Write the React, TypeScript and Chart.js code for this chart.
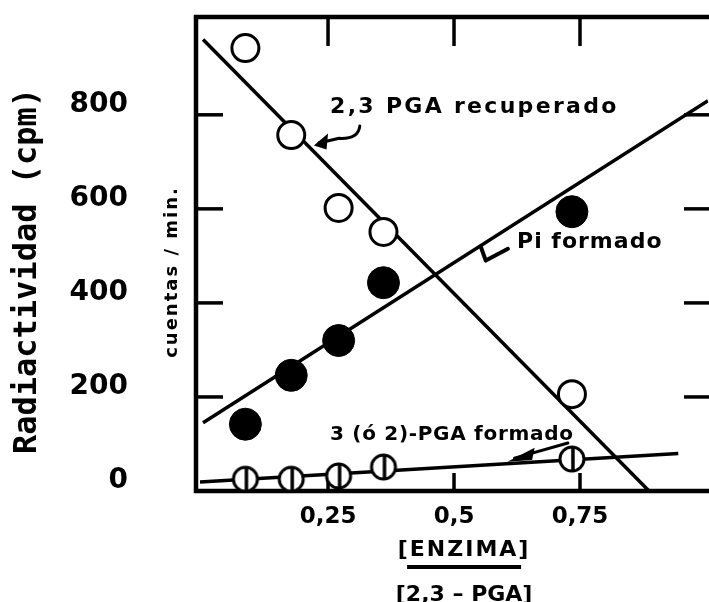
import React, { useEffect, useRef } from 'react';
import { Chart, registerables } from 'chart.js';

Chart.register(...registerables);

// ---- data ----
const ENZYME_RATIO = [0.086, 0.177, 0.271, 0.36, 0.734];
const PGA_RECUPERADO = [942, 757, 602, 551, 206];
const PI_FORMADO = [142, 246, 320, 443, 594];
const PGA_FORMADO = [25, 25, 32, 51, 68];

const FIT_RECUPERADO_X = [0.002, 0.887];
const FIT_RECUPERADO_Y = [960, 0];
const FIT_PI_X = [0.002, 1.004];
const FIT_PI_Y = [145, 830];
const FIT_FORMADO_X = [-0.004, 0.945];
const FIT_FORMADO_Y = [19, 80];

const X_TICKS = [0.25, 0.5, 0.75];
const X_TICK_LABELS = ['0,25', '0,5', '0,75'];
const Y_TICKS = [0, 200, 400, 600, 800];

const SERIES_NAMES = ['2,3 PGA recuperado', 'Pi formado', '3 (ó 2)-PGA formado'];
const Y_TITLE = 'Radiactividad (cpm)';
const Y_SUBTITLE = 'cuentas / min.';
const X_TITLE_TOP = '[ENZIMA]';
const X_TITLE_BOTTOM = '[2,3 – PGA]';

const SANS = '"DejaVu Sans", sans-serif';

function pts(xs: number[], ys: number[]) {
  return xs.map((v, i) => ({ x: v, y: ys[i] }));
}

function makeBarred(): HTMLCanvasElement {
  const r = 12;
  const lw = 3;
  const size = 2 * (r + lw);
  const c = document.createElement('canvas');
  c.width = size;
  c.height = size;
  const g = c.getContext('2d')!;
  g.fillStyle = '#fff';
  g.strokeStyle = '#000';
  g.lineWidth = lw;
  g.beginPath();
  g.arc(size / 2, size / 2, r, 0, Math.PI * 2);
  g.fill();
  g.stroke();
  g.lineWidth = 3.5;
  g.beginPath();
  g.moveTo(size / 2 + 1, size / 2 - r);
  g.lineTo(size / 2 + 1, size / 2 + r);
  g.stroke();
  return c;
}

const framePlugin = {
  id: 'frame',
  beforeDatasetsDraw(chart: any) {
    const { ctx, chartArea: a, scales } = chart;
    const xs = scales.x;
    const ys = scales.y;
    const W = chart.width;
    ctx.save();
    ctx.strokeStyle = '#000';
    ctx.lineCap = 'butt';
    ctx.lineWidth = 4.5;
    ctx.beginPath();
    ctx.moveTo(W + 5, a.top);
    ctx.lineTo(a.left, a.top);
    ctx.lineTo(a.left, a.bottom);
    ctx.lineTo(W + 5, a.bottom);
    ctx.stroke();
    ctx.lineWidth = 3.5;
    const seg = (x1: number, y1: number, x2: number, y2: number) => {
      ctx.beginPath();
      ctx.moveTo(x1, y1);
      ctx.lineTo(x2, y2);
      ctx.stroke();
    };
    Y_TICKS.filter((v) => v > 0).forEach((v) => {
      const py = ys.getPixelForValue(v);
      seg(a.left, py, a.left + 27, py);
      seg(W - 25, py, W + 2, py);
    });
    X_TICKS.forEach((v) => {
      const px = xs.getPixelForValue(v);
      seg(px, a.top, px, a.top + 29);
      seg(px, a.bottom, px, a.bottom - 18);
    });
    ctx.restore();
  },
  afterDatasetsDraw(chart: any) {
    const { ctx, scales } = chart;
    const X = (v: number) => scales.x.getPixelForValue(v);
    const Y = (v: number) => scales.y.getPixelForValue(v);
    ctx.save();
    ctx.fillStyle = '#000';
    ctx.strokeStyle = '#000';
    ctx.textAlign = 'left';
    ctx.textBaseline = 'middle';
    ctx.lineCap = 'round';
    ctx.lineJoin = 'round';

    // 2,3 PGA recuperado
    ctx.font = `bold 22px ${SANS}`;
    (ctx as any).letterSpacing = '2.3px';
    ctx.fillText(SERIES_NAMES[0], X(0.254), Y(815));
    ctx.lineWidth = 3;
    ctx.beginPath();
    ctx.moveTo(X(0.313), Y(776));
    ctx.quadraticCurveTo(X(0.31), Y(748), X(0.272), Y(750));
    ctx.lineTo(X(0.232), Y(740));
    ctx.stroke();
    ctx.beginPath();
    ctx.moveTo(X(0.222), Y(735));
    ctx.lineTo(X(0.25), Y(760));
    ctx.lineTo(X(0.247), Y(726));
    ctx.closePath();
    ctx.fill();

    // Pi formado
    (ctx as any).letterSpacing = '1px';
    ctx.fillText(SERIES_NAMES[1], X(0.625), Y(528));
    ctx.lineWidth = 4;
    ctx.beginPath();
    ctx.moveTo(X(0.553), Y(520));
    ctx.lineTo(X(0.563), Y(490));
    ctx.lineTo(X(0.607), Y(515));
    ctx.stroke();

    // 3 (ó 2)-PGA formado
    ctx.font = `bold 20px ${SANS}`;
    (ctx as any).letterSpacing = '0.7px';
    ctx.fillText(SERIES_NAMES[2], X(0.254), Y(119));
    ctx.lineWidth = 3;
    ctx.beginPath();
    ctx.moveTo(X(0.726), Y(102));
    ctx.lineTo(X(0.62), Y(70));
    ctx.stroke();
    ctx.beginPath();
    ctx.moveTo(X(0.606), Y(62));
    ctx.lineTo(X(0.66), Y(92));
    ctx.lineTo(X(0.655), Y(66));
    ctx.closePath();
    ctx.fill();
    ctx.restore();
  },
  afterDraw(chart: any) {
    const { ctx, scales } = chart;
    const X = (v: number) => scales.x.getPixelForValue(v);
    ctx.save();
    ctx.fillStyle = '#000';
    ctx.strokeStyle = '#000';
    ctx.textAlign = 'center';
    ctx.textBaseline = 'middle';

    // y title
    ctx.save();
    ctx.translate(28, 271);
    ctx.rotate(-Math.PI / 2);
    ctx.font = 'bold 32px "DejaVu Sans Mono", monospace';
    ctx.fillText(Y_TITLE, 0, 0);
    ctx.restore();

    ctx.save();
    ctx.translate(172, 272);
    ctx.rotate(-Math.PI / 2);
    ctx.font = `bold 18px ${SANS}`;
    (ctx as any).letterSpacing = '2px';
    ctx.fillText(Y_SUBTITLE, 0, 0);
    ctx.restore();

    // x title (fraction)
    const cx = X(0.52);
    ctx.textBaseline = 'alphabetic';
    ctx.font = `bold 22px ${SANS}`;
    (ctx as any).letterSpacing = '2px';
    ctx.fillText(X_TITLE_TOP, cx, 556);
    (ctx as any).letterSpacing = '0px';
    ctx.fillText(X_TITLE_BOTTOM, cx, 601);
    ctx.lineWidth = 4;
    ctx.beginPath();
    ctx.moveTo(cx - 57, 567);
    ctx.lineTo(cx + 57, 567);
    ctx.stroke();
    ctx.restore();
  },
};

export default function App() {
  const ref = useRef<HTMLCanvasElement | null>(null);
  useEffect(() => {
    if (!ref.current) return;
    const barred = makeBarred();
    const chart = new Chart(ref.current, {
      type: 'scatter',
      data: {
        datasets: [
          {
            label: SERIES_NAMES[0],
            data: pts(ENZYME_RATIO, PGA_RECUPERADO),
            pointStyle: 'circle',
            pointRadius: 13.5,
            pointBorderWidth: 3,
            pointBackgroundColor: '#fff',
            pointBorderColor: '#000',
            showLine: false,
            order: 1,
          },
          {
            label: SERIES_NAMES[1],
            data: pts(ENZYME_RATIO, PI_FORMADO),
            pointStyle: 'circle',
            pointRadius: 16,
            pointBorderWidth: 1,
            pointBackgroundColor: '#000',
            pointBorderColor: '#000',
            showLine: false,
            order: 1,
          },
          {
            label: SERIES_NAMES[2],
            data: pts(ENZYME_RATIO, PGA_FORMADO),
            pointStyle: barred as any,
            pointRadius: 13.5,
            showLine: false,
            order: 1,
          },
          {
            label: 'fit-rec',
            data: pts(FIT_RECUPERADO_X, FIT_RECUPERADO_Y),
            showLine: true,
            pointRadius: 0,
            borderColor: '#000',
            borderWidth: 3.5,
            order: 2,
          },
          {
            label: 'fit-pi',
            data: pts(FIT_PI_X, FIT_PI_Y),
            showLine: true,
            pointRadius: 0,
            borderColor: '#000',
            borderWidth: 3.5,
            order: 2,
          },
          {
            label: 'fit-formado',
            data: pts(FIT_FORMADO_X, FIT_FORMADO_Y),
            showLine: true,
            pointRadius: 0,
            borderColor: '#000',
            borderWidth: 3.5,
            order: 2,
          },
        ],
      },
      options: {
        responsive: false,
        animation: false,
        events: [],
        layout: { autoPadding: false, padding: { top: 17, right: 1, left: 0, bottom: 0 } },
        plugins: { legend: { display: false }, tooltip: { enabled: false } },
        scales: {
          x: {
            type: 'linear',
            min: -0.012,
            max: 1.004,
            grid: { display: false, drawTicks: false },
            border: { display: false },
            afterFit: (s: any) => {
              s.height = 111;
              s.paddingLeft = 0;
              s.paddingRight = 0;
              s.paddingTop = 0;
              s.paddingBottom = 0;
            },
            afterBuildTicks: (s: any) => {
              s.ticks = X_TICKS.map((v) => ({ value: v }));
            },
            ticks: {
              autoSkip: false,
              maxRotation: 0,
              padding: 12,
              color: '#000',
              font: { family: SANS, size: 23, weight: 'bold' },
              callback: (v: any) => {
                const i = X_TICKS.indexOf(Number(v));
                return i >= 0 ? X_TICK_LABELS[i] : '';
              },
            },
          },
          y: {
            type: 'linear',
            min: 0,
            max: 1008,
            grid: { display: false, drawTicks: false },
            border: { display: false },
            afterFit: (s: any) => {
              s.width = 196;
              s.paddingLeft = 0;
              s.paddingRight = 0;
              s.paddingTop = 0;
              s.paddingBottom = 0;
            },
            afterBuildTicks: (s: any) => {
              s.ticks = Y_TICKS.map((v) => ({ value: v }));
            },
            ticks: {
              padding: 68,
              labelOffset: -10,
              color: '#000',
              font: { family: SANS, size: 28, weight: 'bold' },
              callback: (v: any) => String(v),
            },
          },
        },
      },
      plugins: [framePlugin],
    });
    return () => chart.destroy();
  }, []);
  return (
    <div style={{ position: 'fixed', left: 0, top: 0, width: 709, height: 602, background: '#fff' }}>
      <canvas ref={ref} width={709} height={602} style={{ display: 'block' }} />
    </div>
  );
}
